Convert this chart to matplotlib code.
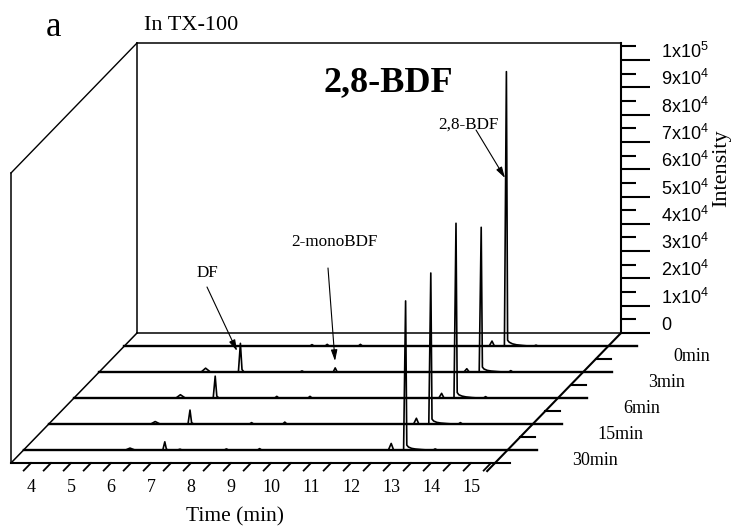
import matplotlib
matplotlib.use("Agg")
import matplotlib.pyplot as plt
from matplotlib.transforms import Affine2D, ScaledTranslation

plt.rcParams['font.family'] = ['Liberation Serif', 'DejaVu Serif']
plt.rcParams['mathtext.fontset'] = 'custom'
plt.rcParams['mathtext.rm'] = 'Liberation Sans'

# retention time grid (min) shared by all chromatograms
time = [3.5, 6.05, 6.16, 6.28, 6.98, 7.03, 7.07, 7.12, 7.35, 7.41, 7.46,
        8.14, 8.19, 8.24, 8.52, 8.57, 8.62, 9.35, 9.40, 9.45,
        12.62, 12.69, 12.75, 13.0, 13.05, 13.08, 13.12, 13.2, 13.3, 13.45, 13.6,
        13.74, 13.79, 13.84, 15.6]

# intensities (0min at the back, 30min at the front)
i_0min = [0, 0, 0, 0, 0, 0, 0, 0, 0, 0, 0,
          0, 500, 0, 0, 600, 0, 0, 600, 0,
          0, 1800, 0, 0, 100500, 2100, 1400, 800, 450, 200, 0,
          0, 300, 0, 0]
i_3min = [0, 0, 1400, 0, 0, 10500, 900, 0, 0, 0, 0,
          0, 0, 0, 0, 400, 0, 0, 1500, 0,
          0, 1200, 0, 0, 53000, 1800, 1100, 600, 350, 150, 0,
          0, 500, 0, 0]
i_6min = [0, 0, 1200, 0, 0, 8000, 700, 0, 0, 0, 0,
          0, 0, 0, 0, 600, 0, 0, 600, 0,
          0, 1700, 0, 0, 64000, 2000, 1200, 700, 400, 150, 0,
          0, 500, 0, 0]
i_15min = [0, 0, 900, 0, 0, 5100, 500, 0, 0, 0, 0,
           0, 0, 0, 0, 500, 0, 0, 700, 0,
           0, 2100, 0, 0, 55300, 1800, 1100, 600, 350, 150, 0,
           0, 500, 0, 0]
i_30min = [0, 0, 700, 0, 0, 3000, 300, 0, 0, 300, 0,
           0, 0, 0, 0, 400, 0, 0, 500, 0,
           0, 2400, 0, 0, 54600, 1800, 1100, 600, 350, 150, 0,
           0, 400, 0, 0]

samples = ['0min', '3min', '6min', '15min', '30min']
traces = [i_0min, i_3min, i_6min, i_15min, i_30min]

x_ticks = list(range(4, 16))
y_major = [k * 10000 for k in range(11)]
y_labels = ['0'] + ['%dx10$^4$' % k for k in range(1, 10)] + ['1x10$^5$']

W, H, DPI = 739, 529, 100
fig = plt.figure(figsize=(W / DPI, H / DPI), dpi=DPI)

# back wall of the 3D box, in pixels
L, R, T, B = 137, 621, 43, 333
ax = fig.add_axes([L / W, 1 - B / H, (R - L) / W, (B - T) / H])
XMIN, XMAX, YMAX = 3.5, 15.6, 106230
ax.set_xlim(XMIN, XMAX)
ax.set_ylim(0, YMAX)
sx = (R - L) / (XMAX - XMIN)
sy = (B - T) / YMAX
DX, DY = -126, -130  # screen shift (px) for the full depth

def at_depth(f, dx=0, dy=0):
    return ax.transData + ScaledTranslation((DX * f + dx) / DPI, (DY * f + dy) / DPI,
                                            fig.dpi_scale_trans)

def depth_plane(level):
    # (time, depth fraction) -> screen, at a fixed intensity level
    return Affine2D.from_values(1, 0, DX / sx, DY / sy, 0, level) + ax.transData

for s in ax.spines.values():
    s.set_linewidth(1.1)
ax.spines['right'].set_linewidth(1.5)
ax.set_xticks([])
ax.yaxis.set_ticks_position('right')
ax.set_yticks(y_major)
ax.set_yticks([5000 + k * 10000 for k in range(11)], minor=True)
ax.tick_params(axis='y', which='major', direction='out', length=29 * 0.72,
               width=1.5, labelright=False, labelleft=False)
ax.tick_params(axis='y', which='minor', direction='out', length=15 * 0.72, width=1.5)
lab_tr = ax.get_yaxis_transform() + ScaledTranslation(0, 8 / DPI, fig.dpi_scale_trans)
for v, lab in zip(y_major, y_labels):
    ax.text(1 + 40 / (R - L), v, lab, transform=lab_tr, ha='left', va='center',
            fontsize=13, family='Liberation Sans')

kw = dict(color='black', clip_on=False)
# box frame
ax.plot([XMIN, XMIN], [0, 1], lw=1.1, transform=depth_plane(0), **kw)
ax.plot([XMIN, XMIN], [0, 1], lw=1.0, transform=depth_plane(YMAX), **kw)
ax.plot([XMIN, XMIN], [0, YMAX], lw=1.1, transform=at_depth(1), **kw)
ax.plot([XMAX, XMAX], [0, 1.062], lw=1.5, transform=depth_plane(0), **kw)
ax.plot([XMIN, XMAX], [0, 0], lw=1.5, transform=at_depth(1), **kw)

# depth ticks: minor between traces, major along each trace baseline
for f in [0.2, 0.4, 0.6, 0.8, 1.0]:
    ax.plot([XMAX, XMAX + 15 / sx], [0, 0], lw=1.5, transform=at_depth(f), **kw)

# slanted time ticks on the front edge
t = 4.0
while t < XMAX:
    ax.plot([t, t], [1.0, 1.058], lw=1.3, transform=depth_plane(0), **kw)
    t += 0.5
for t in x_ticks:
    ax.text(t, 0, str(t), transform=at_depth(1, dy=-25), ha='center', va='center',
            fontsize=13)

for k, (name, vals) in enumerate(zip(samples, traces)):
    f = (k + 0.5) / len(samples)
    tr = at_depth(f)
    ax.plot([XMIN, XMAX + 29 / sx], [0, 0], lw=1.7, transform=tr, **kw)
    ax.plot(time, vals, lw=1.2, transform=tr, **kw)
    ax.text(XMAX + 74.5 / sx, 0, name, transform=at_depth(f + 0.077), ha='left',
            va='center', fontsize=13)

def fp(x, y):
    return (x, H - y)

fig.text(53.5 / W, 1 - 27.5 / H, 'a', fontsize=25, ha='center', va='center')
fig.text(191 / W, 1 - 26 / H, 'In TX-100', fontsize=16, ha='center', va='center')
fig.text(388 / W, 1 - 83 / H, '2,8-BDF', fontsize=26, fontweight='bold',
         ha='center', va='center')
fig.text(722 / W, 1 - 168 / H, 'Intensity', fontsize=16, rotation=90,
         ha='center', va='center')
fig.text(234.5 / W, 1 - 517 / H, 'Time (min)', fontsize=15.5, ha='center', va='center')

arrow = dict(arrowstyle='-|>,head_length=0.55,head_width=0.16', lw=0.8,
             color='black', mutation_scale=12, shrinkA=0, shrinkB=0)
for label, pos, start, tip in [('DF', (207, 273), (207, 287), (237, 351)),
                               ('2-monoBDF', (334, 242), (328, 268), (335, 361)),
                               ('2,8-BDF', (468, 125), (476, 130), (505, 178))]:
    fig.text(pos[0] / W, 1 - pos[1] / H, label, fontsize=12.3, ha='center', va='center')
    ax.annotate('', xy=fp(*tip), xycoords='figure pixels', xytext=fp(*start),
                textcoords='figure pixels', arrowprops=arrow, annotation_clip=False)

fig.savefig('out.png', dpi=DPI)
